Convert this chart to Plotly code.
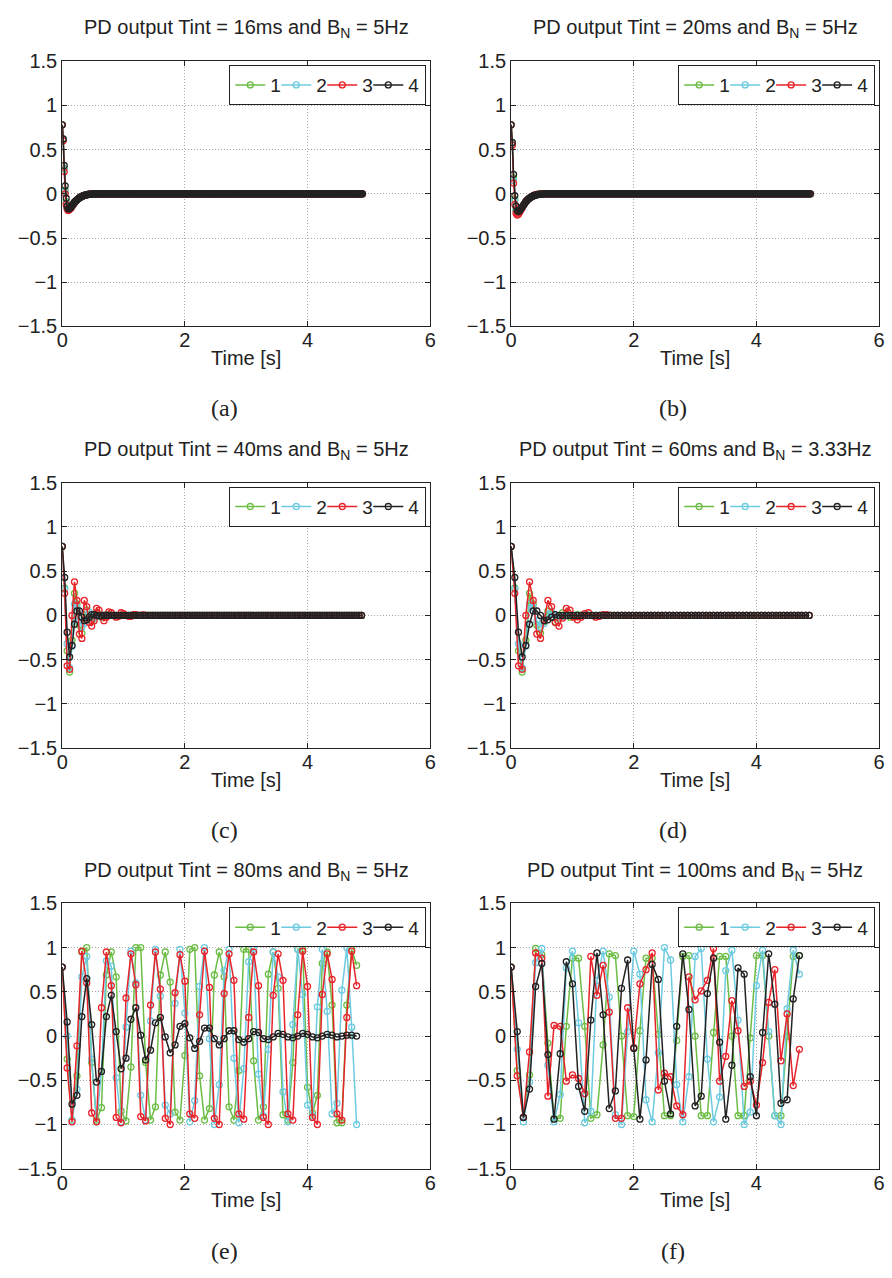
import plotly.graph_objects as go

W, H = 892, 1278

SERIES_NAMES = ["1", "2", "3", "4"]
COLORS = ["#6cbd45", "#6dcbe1", "#e8232a", "#222222"]

X_TICKS = [0, 2, 4, 6]
Y_TICKS = [-1.5, -1, -0.5, 0, 0.5, 1, 1.5]

TITLES = [
    "PD output Tint = 16ms and B<sub>N</sub> = 5Hz",
    "PD output Tint = 20ms and B<sub>N</sub> = 5Hz",
    "PD output Tint = 40ms and B<sub>N</sub> = 5Hz",
    "PD output Tint = 60ms and B<sub>N</sub> = 3.33Hz",
    "PD output Tint = 80ms and B<sub>N</sub> = 5Hz",
    "PD output Tint = 100ms and B<sub>N</sub> = 5Hz",
]
CAPTIONS = ["(a)", "(b)", "(c)", "(d)", "(e)", "(f)"]
TINT = [0.016, 0.020, 0.040, 0.060, 0.080, 0.100]
N_SAMPLES = [307, 245, 123, 82, 61, 48]

# ---- panel (a): transient values, remaining samples read as 0 ----
A1 = [0.78, 0.61, 0.29, 0.04, -0.09, -0.16, -0.18, -0.18, -0.17, -0.15, -0.14, -0.12,
      -0.11, -0.09, -0.08, -0.07, -0.06, -0.05, -0.04, -0.035, -0.03, -0.024, -0.02,
      -0.016, -0.013, -0.01, -0.008, -0.006, -0.005, -0.004, -0.003, -0.002, -0.002,
      -0.001, -0.001]
A2 = [0.78, 0.62, 0.28, 0.02, -0.10, -0.17, -0.18, -0.18, -0.17, -0.15, -0.14, -0.12,
      -0.11, -0.09, -0.08, -0.07, -0.06, -0.05, -0.04, -0.035, -0.03, -0.024, -0.02,
      -0.016, -0.013, -0.01, -0.008, -0.006, -0.005, -0.004, -0.003, -0.002, -0.002,
      -0.001, -0.001]
A3 = [0.78, 0.60, 0.25, 0.0, -0.12, -0.17, -0.19, -0.18, -0.17, -0.16, -0.14, -0.12,
      -0.11, -0.09, -0.08, -0.07, -0.06, -0.05, -0.04, -0.035, -0.03, -0.024, -0.02,
      -0.016, -0.013, -0.01, -0.008, -0.006, -0.005, -0.004, -0.003, -0.002, -0.002,
      -0.001, -0.001]
A4 = [0.78, 0.62, 0.32, 0.09, -0.05, -0.14, -0.17, -0.17, -0.16, -0.15, -0.13, -0.12,
      -0.10, -0.09, -0.08, -0.07, -0.06, -0.05, -0.04, -0.035, -0.03, -0.025, -0.02,
      -0.016, -0.013, -0.01, -0.008, -0.006, -0.005, -0.004, -0.003, -0.002, -0.002,
      -0.001, -0.001]

# ---- panel (b) ----
B1 = [0.78, 0.57, 0.18, -0.06, -0.18, -0.22, -0.21, -0.19, -0.17, -0.15, -0.13, -0.11,
      -0.09, -0.07, -0.06, -0.05, -0.04, -0.03, -0.02, -0.015, -0.011, -0.008, -0.006,
      -0.004, -0.003, -0.002, -0.001]
B2 = [0.78, 0.56, 0.15, -0.08, -0.19, -0.22, -0.22, -0.20, -0.18, -0.15, -0.13, -0.11,
      -0.09, -0.07, -0.06, -0.05, -0.04, -0.03, -0.02, -0.015, -0.011, -0.008, -0.006,
      -0.004, -0.003, -0.002, -0.001]
B3 = [0.78, 0.55, 0.12, -0.12, -0.22, -0.24, -0.23, -0.21, -0.18, -0.16, -0.13, -0.11,
      -0.09, -0.07, -0.06, -0.05, -0.04, -0.03, -0.02, -0.015, -0.011, -0.008, -0.006,
      -0.004, -0.003, -0.002, -0.001]
B4 = [0.78, 0.58, 0.22, -0.02, -0.14, -0.19, -0.20, -0.19, -0.17, -0.15, -0.13, -0.11,
      -0.09, -0.075, -0.06, -0.05, -0.04, -0.03, -0.025, -0.02, -0.015, -0.011, -0.008,
      -0.006, -0.004, -0.003, -0.002, -0.001]

# ---- panel (c) ----
C1 = [0.78, 0.31, -0.40, -0.64, -0.28, 0.25, 0.13, -0.11, -0.20, -0.02, 0.06, 0.0,
      -0.07, -0.03, 0.03, 0.02, -0.02, -0.02, 0.01, 0.01, 0.0]
C2 = [0.78, 0.30, -0.32, -0.59, -0.35, 0.13, 0.09, -0.06, -0.13, -0.09, 0.01, 0.04,
      0.0, -0.03, -0.01, 0.01, 0.01, 0.0]
C3 = [0.78, 0.25, -0.57, -0.61, 0.0, 0.38, 0.17, -0.21, -0.26, 0.17, 0.10, -0.08,
      -0.12, -0.06, 0.08, 0.06, -0.01, -0.06, -0.02, 0.04, 0.03, 0.0, -0.02, -0.01,
      0.03, 0.02, 0.0, -0.01, -0.01, 0.01, 0.01, 0.0, 0.0, 0.005]
C4 = [0.78, 0.43, -0.19, -0.47, -0.34, -0.10, 0.05, 0.05, -0.02, -0.06, -0.05, -0.02,
      0.01, 0.01, 0.0, -0.005, -0.005, 0.0]

# ---- panel (d) ----
D1 = [0.78, 0.31, -0.40, -0.64, -0.28, 0.25, 0.13, -0.11, -0.20, -0.07, 0.05, 0.02,
      -0.07, -0.03, 0.03, 0.02, -0.02, -0.01, 0.01, 0.0]
D2 = [0.78, 0.30, -0.32, -0.59, -0.35, 0.13, 0.09, -0.06, -0.13, -0.09, 0.01, 0.04,
      0.0, -0.03, -0.01, 0.01, 0.0]
D3 = [0.78, 0.25, -0.57, -0.61, 0.0, 0.38, 0.17, -0.21, -0.26, -0.05, 0.17, 0.10,
      -0.08, -0.12, -0.03, 0.08, 0.06, -0.02, -0.05, -0.02, 0.02, 0.03, 0.0, -0.02,
      -0.01, 0.01, 0.01, 0.0]
D4 = [0.78, 0.43, -0.19, -0.47, -0.34, -0.10, 0.05, 0.05, 0.0, -0.06, -0.05, -0.02,
      0.01, 0.0]

# ---- panel (e) ----
E1 = [0.78, -0.26, -0.95, -0.45, 0.95, 1.0, -0.30, -0.95, -0.81, 0.69, 0.95, 0.67,
      -0.85, -0.96, -0.35, 1.0, 1.0, -0.30, -0.95, -0.80, 0.69, 0.95, 0.61, -0.86,
      -0.95, -0.22, 0.98, 1.0, -0.45, -0.95, -0.82, 0.69, 0.95, 0.67, -0.80, -0.95,
      -0.39, 0.98, 0.98, -0.28, -0.95, -0.80, 0.70, 0.95, 0.54, -0.89, -0.95, -0.30,
      0.98, 0.98, -0.58, -0.87, -0.67, 0.82, 0.95, 0.35, -0.98, -0.98, 0.35, 0.98, 0.80]
E2 = [0.78, 0.0, -0.95, -0.60, 0.67, 0.90, -0.26, -0.97, -0.40, 0.85, 0.79, -0.47,
      -0.97, 0.10, 0.96, 0.60, -0.67, -0.95, 0.17, 0.98, 0.45, -0.78, -0.88, 0.37,
      0.98, 0.26, -0.97, -0.73, 0.56, 1.0, -0.03, -1.0, -0.55, 0.74, 0.98, -0.25,
      -0.98, -0.37, 0.84, 0.98, -0.43, -0.90, -0.15, 0.95, 0.67, -0.63, -0.97, 0.13,
      0.98, 0.47, -0.78, -0.90, 0.33, 0.98, 0.28, -0.88, -0.76, 0.52, 1.0, 0.10, -1.0]
E3 = [0.78, -0.36, -0.97, -0.11, 0.96, 0.60, -0.87, -0.97, 0.32, 0.95, 0.57, -0.92,
      -0.98, 0.43, 0.93, 0.58, -0.91, -0.96, 0.35, 0.95, 0.53, -0.93, -1.0, 0.49,
      0.92, 0.62, -0.88, -0.93, 0.24, 0.96, 0.55, -0.93, -1.0, 0.48, 0.93, 0.63,
      -0.88, -0.94, 0.21, 0.95, 0.57, -0.92, -1.0, 0.46, 0.93, 0.63, -0.88, -0.95,
      0.24, 0.96, 0.56, -0.92, -1.0, 0.47, 0.93, 0.64, -0.88, -0.95, 0.21, 0.96, 0.57]
E4 = [0.78, 0.16, -0.77, -0.67, 0.22, 0.65, 0.13, -0.52, -0.40, 0.22, 0.46, 0.05,
      -0.37, -0.25, 0.19, 0.32, 0.01, -0.27, -0.16, 0.15, 0.21, -0.01, -0.19, -0.10,
      0.11, 0.14, -0.02, -0.14, -0.06, 0.09, 0.09, -0.03, -0.10, -0.03, 0.06, 0.06,
      -0.04, -0.07, -0.03, 0.05, 0.04, -0.03, -0.04, -0.01, 0.03, 0.02, -0.01, -0.02,
      0.0, 0.03, 0.02, -0.01, -0.02, 0.0, 0.02, 0.01, -0.01, 0.0, 0.01, 0.01, 0.0]

# ---- panel (f) ----
F1 = [0.78, -0.39, -0.92, -0.44, 0.99, 0.92, -0.08, -0.93, -0.93, 0.11, 0.88, 0.88,
      0.11, -0.93, -0.89, -0.10, 0.93, 0.91, 0.0, -0.90, -0.91, 0.06, 0.88, 0.88,
      0.02, -0.90, -0.90, -0.05, 0.90, 0.91, 0.0, -0.90, -0.90, 0.04, 0.90, 0.90,
      0.0, -0.90, -0.90, -0.02, 0.91, 0.91, 0.0, -0.90, -0.90, 0.0, 0.90, 0.91]
F2 = [0.78, -0.15, -0.97, -0.52, 0.83, 0.99, -0.33, -0.97, -0.66, 0.77, 0.96, 0.15,
      -0.98, -0.85, 0.63, 0.96, 0.44, -0.89, -1.0, 0.05, 0.96, 0.70, -0.72, -0.97,
      -0.19, 1.0, 0.86, -0.55, -0.97, -0.46, 0.90, 0.99, -0.26, -0.97, -0.69, 0.74,
      0.97, 0.18, -1.0, -0.86, 0.57, 0.97, 0.05, -0.90, -1.0, 0.31, 0.97, 0.70]
F3 = [0.78, -0.45, -0.92, -0.18, 0.94, 0.88, -0.68, 0.12, 0.11, -0.51, -0.44, -0.48,
      -0.65, 0.90, 0.46, 0.80, 0.27, -0.93, -0.93, 0.32, -0.13, 0.59, 0.75, 0.94,
      -0.61, -0.42, -0.46, -0.79, -0.89, 0.67, 0.41, 0.51, 0.63, 0.99, -0.51, -0.23,
      0.40, 0.06, -0.57, -0.51, -0.78, -0.30, 0.38, 0.75, -0.28, 0.25, -0.56, -0.15]
F4 = [0.78, 0.05, -0.92, -0.60, 0.56, 0.82, -0.21, -0.94, -0.20, 0.84, 0.59, -0.57,
      -0.85, 0.18, 0.94, 0.24, -0.82, -0.62, 0.54, 0.86, -0.14, -0.94, -0.27, 0.81,
      0.64, -0.51, -0.88, 0.11, 0.93, 0.30, -0.79, -0.68, 0.48, 0.88, -0.07, -0.94,
      -0.33, 0.77, 0.70, -0.46, -0.90, 0.04, 0.93, 0.36, -0.76, -0.72, 0.42, 0.91]

PANEL_DATA = [
    [A1, A2, A3, A4],
    [B1, B2, B3, B4],
    [C1, C2, C3, C4],
    [D1, D2, D3, D4],
    [E1, E2, E3, E4],
    [F1, F2, F3, F4],
]


def padded(vals, n):
    return list(vals) + [0.0] * (n - len(vals))


# ---- layout geometry (pixels) ----
PLOT_LEFT = [57, 512]
PLOT_RIGHT = [430, 885]
PLOT_TOP = [51, 480, 908]
PLOT_BOTTOM = [321, 750, 1178]
TITLE_Y = [18, 447, 876]
CAPTION_Y = [404, 833, 1262]
CAPTION_X = [221, 676]

FONT = "Liberation Sans, Arial, Helvetica, sans-serif"
INK = "#222222"

fig = go.Figure()
layout = dict(
    width=W, height=H,
    margin=dict(l=0, r=0, t=0, b=0),
    paper_bgcolor="white", plot_bgcolor="white",
    font=dict(family=FONT, size=19, color=INK),
    annotations=[],
)

for k in range(6):
    row, col = divmod(k, 2)
    L, R = PLOT_LEFT[col], PLOT_RIGHT[col]
    T, B = PLOT_TOP[row], PLOT_BOTTOM[row]
    sfx = "" if k == 0 else str(k + 1)
    xname, yname = "x" + sfx, "y" + sfx
    lname = "legend" + sfx

    n = N_SAMPLES[k]
    t = [i * TINT[k] for i in range(n)]
    for s, vals in enumerate(PANEL_DATA[k]):
        fig.add_trace(go.Scatter(
            x=t, y=padded(vals, n), mode="lines+markers",
            name=SERIES_NAMES[s], legend=lname,
            legendwidth=12 if s == 3 else 1,
            xaxis=xname, yaxis=yname,
            line=dict(color=COLORS[s], width=1.5),
            marker=dict(symbol="circle-open", size=6, color=COLORS[s],
                        line=dict(width=1.3, color=COLORS[s])),
        ))

    axis_common = dict(
        showline=True, linecolor=INK, linewidth=1, mirror="ticks",
        ticks="inside", ticklen=5, tickcolor=INK, tickwidth=1,
        showgrid=True, gridcolor="#a8a8a8", griddash="1px,2px", gridwidth=1,
        zeroline=False, tickfont=dict(size=20, family=FONT, color=INK),
        tickmode="array",
    )
    layout["xaxis" + sfx] = dict(
        axis_common, domain=[L / W, R / W], range=[0, 6], tickvals=X_TICKS,
        anchor=yname, ticklabelstandoff=-4,
        title=dict(text="Time [s]", font=dict(size=20, family=FONT, color=INK), standoff=0),
    )
    layout["yaxis" + sfx] = dict(
        axis_common, domain=[1 - B / H, 1 - T / H], range=[-1.5, 1.5], tickvals=Y_TICKS,
        anchor=xname,
    )
    layout[lname] = dict(
        x=(R - 4) / W, xanchor="right", y=1 - (T + 4) / H, yanchor="top",
        orientation="h", bgcolor="white", bordercolor=INK, borderwidth=1,
        font=dict(size=19, family=FONT, color=INK),
        itemwidth=30, entrywidthmode="pixels",
        tracegroupgap=0, traceorder="normal",
    )
    layout["annotations"].append(dict(
        text=TITLES[k], x=(L + R) / 2 / W, y=1 - TITLE_Y[row] / H,
        xref="paper", yref="paper", xanchor="center", yanchor="middle",
        showarrow=False, font=dict(size=20, family=FONT, color=INK),
    ))
    layout["annotations"].append(dict(
        text=CAPTIONS[k], x=CAPTION_X[col] / W, y=1 - CAPTION_Y[row] / H,
        xref="paper", yref="paper", xanchor="center", yanchor="middle",
        showarrow=False, font=dict(size=24, family="Liberation Serif, DejaVu Serif, serif", color=INK),
    ))

fig.update_layout(**layout)
fig.write_html("out.html")
